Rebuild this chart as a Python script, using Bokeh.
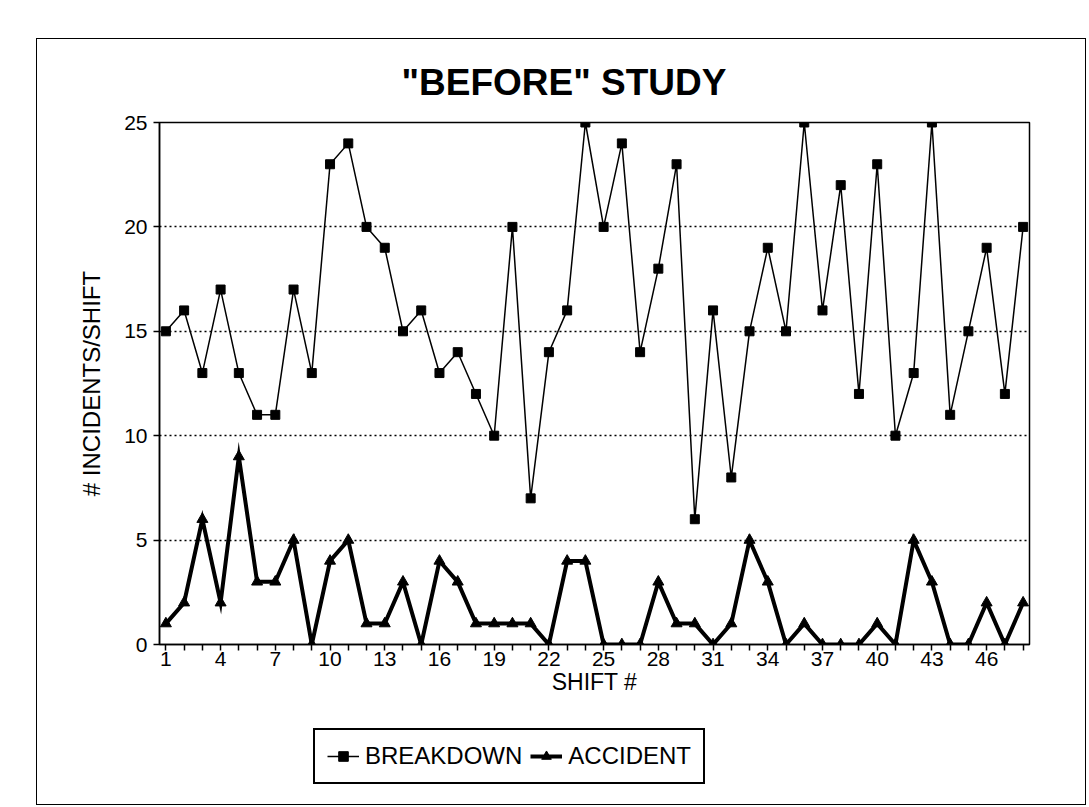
from bokeh.plotting import figure
from bokeh.layouts import column
from bokeh.models import Range1d, FixedTicker, Legend, LegendItem
from bokeh.embed import file_html
from bokeh.resources import INLINE

# ---- data ----
shifts = list(range(1, 49))
breakdown = [15, 16, 13, 17, 13, 11, 11, 17, 13, 23, 24, 20, 19, 15, 16, 13,
             14, 12, 10, 20, 7, 14, 16, 25, 20, 24, 14, 18, 23, 6, 16, 8, 15,
             19, 15, 25, 16, 22, 12, 23, 10, 13, 25, 11, 15, 19, 12, 20]
accident = [1, 2, 6, 2, 9, 3, 3, 5, 0, 4, 5, 1, 1, 3, 0, 4, 3, 1, 1, 1, 1, 0,
            4, 4, 0, 0, 0, 3, 1, 1, 0, 1, 5, 3, 0, 1, 0, 0, 0, 1, 0, 5, 3, 0,
            0, 2, 0, 2]
y_ticks = [0, 5, 10, 15, 20, 25]
x_labelled = list(range(1, 47, 3))
series_names = ["BREAKDOWN", "ACCIDENT"]

FONT = "Liberation Sans"
W = 1048

p = figure(width=W, height=680, output_backend="svg", toolbar_location=None,
           x_range=Range1d(0.65, 48.35), y_range=Range1d(0, 25),
           min_border_left=122, min_border_right=56, min_border_top=74,
           min_border_bottom=75)

p.title.text = '"BEFORE" STUDY'
p.title.align = "left"
p.title.text_font = FONT
p.title.text_font_size = "37px"
p.title.text_font_style = "bold"
p.title.text_color = "black"
p.title.offset = 242
p.title.standoff = 40

p.outline_line_color = "black"
p.outline_line_width = 1.5
p.outline_line_alpha = 1.0

p.xgrid.visible = False
p.ygrid.grid_line_color = "black"
p.ygrid.grid_line_dash = "2 3"
p.ygrid.grid_line_width = 1.5

for ax in (p.xaxis[0], p.yaxis[0]):
    ax.axis_line_color = "black"
    ax.axis_line_width = 1.5
    ax.major_tick_line_color = "black"
    ax.major_tick_line_width = 1.5
    ax.major_tick_in = 0
    ax.major_tick_out = 6
    ax.minor_tick_line_color = None
    ax.major_label_text_font = FONT
    ax.major_label_text_font_size = "21px"
    ax.major_label_text_color = "black"
    ax.axis_label_text_font = FONT
    ax.axis_label_text_font_size = "23px"
    ax.axis_label_text_font_style = "normal"
    ax.axis_label_text_color = "black"

p.xaxis.ticker = FixedTicker(ticks=shifts)
p.xaxis.major_label_overrides = {s: (str(s) if s in x_labelled else "") for s in shifts}
p.xaxis.major_label_standoff = 1
p.xaxis.axis_label = "SHIFT #"
p.xaxis.axis_label_standoff = 0

p.yaxis.ticker = FixedTicker(ticks=y_ticks)
p.yaxis.major_label_standoff = 6
p.yaxis.axis_label = "# INCIDENTS/SHIFT"
p.yaxis.axis_label_text_font_size = "24px"
p.yaxis.axis_label_standoff = 16

BD_LINE = dict(line_color="black", line_width=1.5)
BD_MARK = dict(marker="square", size=9, color="black")
AC_LINE = dict(line_color="black", line_width=4, line_join="miter")
AC_MARK = dict(marker="triangle", size=11, color="black")

p.line(shifts, breakdown, **BD_LINE)
p.scatter(shifts, breakdown, **BD_MARK)
p.line(shifts, accident, **AC_LINE)
p.scatter(shifts, accident, **AC_MARK)

# ---- legend strip: same series with the same styles, kept out of its view,
#      so that only the legend keys show ----
LH = 85
q = figure(width=W, height=LH, output_backend="svg", toolbar_location=None,
           x_range=Range1d(100, 200), y_range=Range1d(100, 200),
           min_border_left=122, min_border_right=56,
           min_border_top=0, min_border_bottom=0)
q.axis.visible = False
q.grid.visible = False
q.outline_line_color = None
k1 = q.line(shifts, breakdown, **BD_LINE)
k2 = q.scatter(shifts, breakdown, **BD_MARK)
k3 = q.line(shifts, accident, **AC_LINE)
k4 = q.scatter(shifts, accident, **AC_MARK)

legend = Legend(items=[LegendItem(label=series_names[0], renderers=[k1, k2]),
                       LegendItem(label=series_names[1], renderers=[k3, k4])],
                orientation="horizontal", location=(154, 20))
legend.label_text_font = FONT
legend.label_text_font_size = "24px"
legend.label_text_color = "black"
legend.glyph_width = 32
legend.glyph_height = 24
legend.label_standoff = 6
legend.spacing = 8
legend.padding = 12
legend.margin = 0
legend.border_line_color = "black"
legend.border_line_width = 2
legend.border_line_alpha = 1.0
legend.background_fill_color = "white"
legend.background_fill_alpha = 1.0
q.add_layout(legend)

lay = column(p, q, spacing=0,
             styles={"margin-left": "36px", "margin-top": "38px",
                     "border": "1.5px solid black"})

open("out.html", "w").write(file_html(lay, INLINE))
